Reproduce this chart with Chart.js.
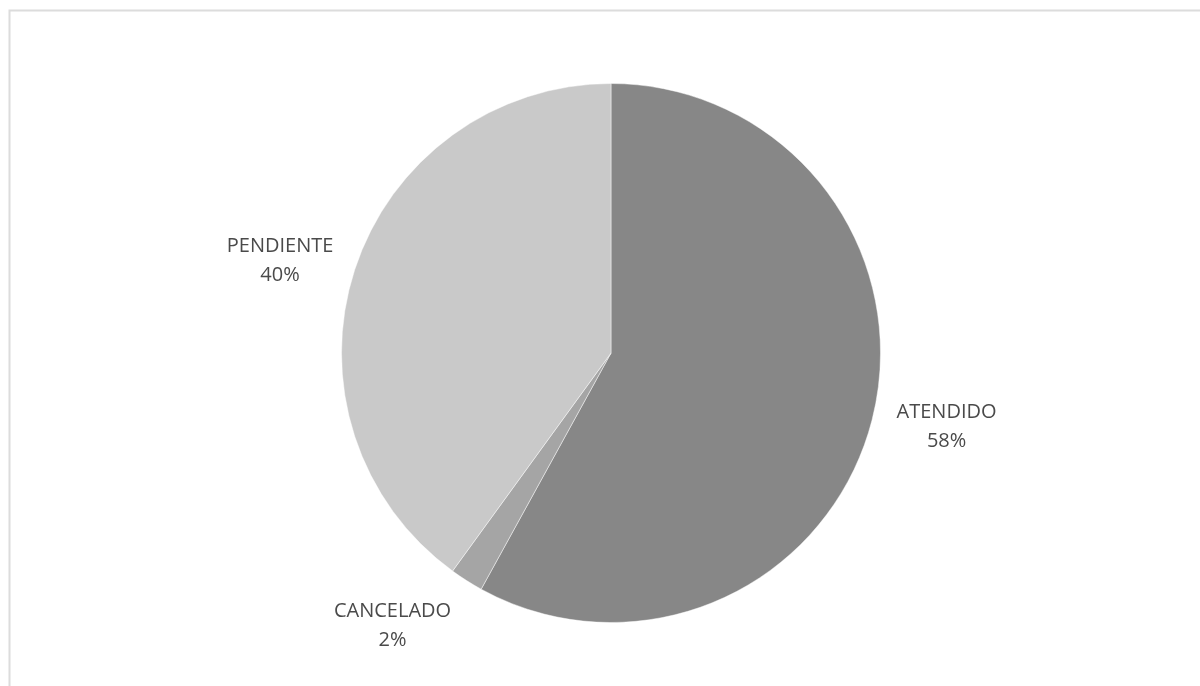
<!DOCTYPE html>
<html lang="es">
<head>
<meta charset="utf-8">
<title>Estado de atenciones</title>
<script src="https://cdn.jsdelivr.net/npm/chart.js@4/dist/chart.umd.min.js"></script>
<style>
  html, body { margin: 0; padding: 0; background: #ffffff; }
  #wrap { position: relative; width: 1200px; height: 686px; overflow: hidden; }
  canvas { display: block; }
</style>
</head>
<body>
<div id="wrap"><canvas id="pie-chart" width="1200" height="686"></canvas></div>
<script>
  const categories = ["ATENDIDO", "CANCELADO", "PENDIENTE"];
  const shares = [58, 2, 40];
  const sliceColors = ["#878787", "#a5a5a5", "#c9c9c9"];

  const LABEL_FONT = "20px 'Open Sans'";
  const LABEL_COLOR = "#4a4a4a";
  const LINE_GAP = 29;

  // thin grey frame of the chart area, only top and left edges are visible
  const framePlugin = {
    id: "frame",
    beforeDraw(chart) {
      const ctx = chart.ctx;
      ctx.save();
      ctx.strokeStyle = "#dcdcdc";
      ctx.lineWidth = 2;
      ctx.beginPath();
      ctx.moveTo(9.5, 700);
      ctx.lineTo(9.5, 10.5);
      ctx.lineTo(1210, 10.5);
      ctx.stroke();
      ctx.restore();
    },
  };

  // category name + percentage placed outside each slice
  const outsideLabels = {
    id: "outsideLabels",
    afterDatasetsDraw(chart) {
      const ctx = chart.ctx;
      const meta = chart.getDatasetMeta(0);
      const values = chart.data.datasets[0].data;
      const total = values.reduce((a, b) => a + b, 0);

      ctx.save();
      ctx.font = LABEL_FONT;
      ctx.fillStyle = LABEL_COLOR;
      ctx.textBaseline = "middle";

      meta.data.forEach((arc, i) => {
        const { x, y, startAngle, endAngle, outerRadius } = arc.getProps(
          ["x", "y", "startAngle", "endAngle", "outerRadius"], true
        );
        const mid = (startAngle + endAngle) / 2;
        const cos = Math.cos(mid);
        const sin = Math.sin(mid);
        const ax = x + cos * (outerRadius + 14);
        const ay = y + sin * (outerRadius + 14);

        const lines = [chart.data.labels[i], Math.round((values[i] / total) * 100) + "%"];
        const w = Math.max(...lines.map((t) => ctx.measureText(t).width));
        const h = LINE_GAP + 18;

        let cx;
        if (cos >= 0) cx = ax + 11 + w / 2;
        else cx = ax - 8 - w / 2;
        const cy = ay + h * sin * Math.abs(sin);

        ctx.textAlign = "center";
        ctx.fillText(lines[0], cx, cy - LINE_GAP / 2);
        ctx.fillText(lines[1], cx, cy + LINE_GAP / 2);
      });
      ctx.restore();
    },
  };

  new Chart(document.getElementById("pie-chart"), {
    type: "pie",
    data: {
      labels: categories,
      datasets: [{
        data: shares,
        backgroundColor: sliceColors,
        borderColor: "rgba(255, 255, 255, 0.45)",
        borderWidth: 1,
      }],
    },
    options: {
      responsive: false,
      animation: false,
      layout: { padding: { top: 83, bottom: 63, left: 22, right: 0 } },
      plugins: {
        legend: { display: false },
        tooltip: { enabled: false },
      },
    },
    plugins: [framePlugin, outsideLabels],
  });
</script>
</body>
</html>
